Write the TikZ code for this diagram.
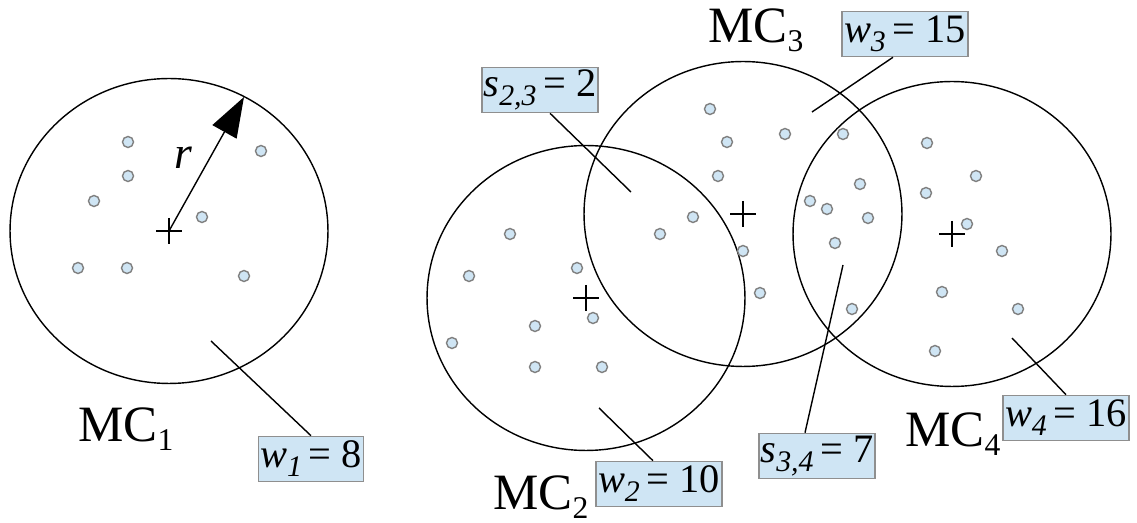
\documentclass[tikz,border=0pt]{standalone}
\usepackage{fontspec}
\setmainfont{Liberation Serif}
\usepackage{xcolor}
\usetikzlibrary{arrows.meta,calc}
\definecolor{boxblue}{HTML}{CFE5F4}
\definecolor{boxgray}{HTML}{8F8F8F}
\definecolor{dotgray}{HTML}{808080}
\newcommand\wsub[1]{\raisebox{-0.22em}{\fontsize{17}{17}\selectfont\itshape #1}}
\newcommand\mcsub[1]{\raisebox{-0.17em}{\fontsize{18}{18}\selectfont #1}}

\begin{document}
\begin{tikzpicture}[
    x=0.02cm, y=-0.02cm,
    cluster/.style={draw, line width=0.8pt, x radius=3.18cm, y radius=3.05cm},
    wbox/.style={draw=boxgray, fill=boxblue, line width=0.9pt, inner xsep=1pt, inner ysep=0pt, minimum height=0.9cm, font=\fontsize{23}{23}\selectfont},
    mclabel/.style={anchor=base west, inner sep=0pt, font=\fontsize{29}{29}\selectfont},
    dot/.style={circle, draw=dotgray, fill=boxblue, line width=0.8pt, minimum size=0.22cm, inner sep=0pt},
    lead/.style={line width=0.8pt},
    rarr/.style={line width=0.8pt, -{Triangle[length=0.8cm, width=0.55cm]}}
  ]
    \useasboundingbox (0,0) rectangle (1137,523);

    \coordinate (c1) at (169,231);
    \coordinate (c2) at (586,298);
    \coordinate (c3) at (743,214);
    \coordinate (c4) at (952,234);

    \draw[cluster] (c1) ellipse [];
    \draw[cluster] (c2) ellipse [];
    \draw[cluster] (c3) ellipse [];
    \draw[cluster] (c4) ellipse [];

    \foreach \c in {c1,c2,c3,c4}
      \draw[line width=0.7pt] (\c) +(-13,0) -- +(13,0) +(0,-13) -- +(0,13);

    \foreach \x/\y in {128/142, 261/151, 128/176, 94/201, 202/217, 78/268, 127/268, 244/276,
                       510/234, 469/276, 577/268, 452/343, 535/326, 593/318, 535/367, 602/367,
                       660/234, 693/217, 710/109, 727/142, 718/176, 785/134, 743/251, 760/293,
                       843/134, 860/184, 810/201, 827/209, 868/218, 835/243, 852/309,
                       927/143, 976/176, 926/193, 967/224, 1002/251, 942/292, 1018/309, 935/351}
      \node[dot] at (\x,\y) {};

    \coordinate (rtip) at (244,97);
    \draw[rarr] (c1) -- (rtip);
    \node[font=\fontsize{26}{26}\selectfont\itshape] (rlab) at (183,158) {r};

    \node[mclabel] (mc1) at (78,442) {MC\mcsub{1}};
    \node[mclabel] (mc2) at (493,510) {MC\mcsub{2}};
    \node[mclabel] (mc3) at (708,43) {MC\mcsub{3}};
    \node[mclabel] (mc4) at (905,447) {MC\mcsub{4}};

    \node[wbox] (w1)  at (311,459) {\textit{w}\wsub{1}\,= 8};
    \node[wbox] (w2)  at (659,484) {\textit{w}\wsub{2}\,= 10};
    \node[wbox] (w3)  at (905,34)  {\textit{w}\wsub{3}\,= 15};
    \node[wbox] (w4)  at (1066,418) {\textit{w}\wsub{4}\,= 16};
    \node[wbox] (s23) at (540,90)  {\textit{s}\wsub{2,3}\,= 2};
    \node[wbox] (s34) at (817,456) {\textit{s}\wsub{3,4}\,= 7};

    \coordinate (a1)  at (211,341);
    \coordinate (a2)  at (599,408);
    \coordinate (a3)  at (812,112);
    \coordinate (a4)  at (1012,338);
    \coordinate (a23) at (631,192);
    \coordinate (a34) at (843,265);

    \draw[lead] (a1) -- (w1.north);
    \draw[lead] (a2) -- ([xshift=-0.12cm]w2.north);
    \draw[lead] (a3) -- ([xshift=-0.24cm]w3.south);
    \draw[lead] (a4) -- (w4.north);
    \draw[lead] (a23) -- ([xshift=0.2cm]s23.south);
    \draw[lead] (a34) -- ([xshift=-0.24cm]s34.north);
  \end{tikzpicture}
\end{document}
